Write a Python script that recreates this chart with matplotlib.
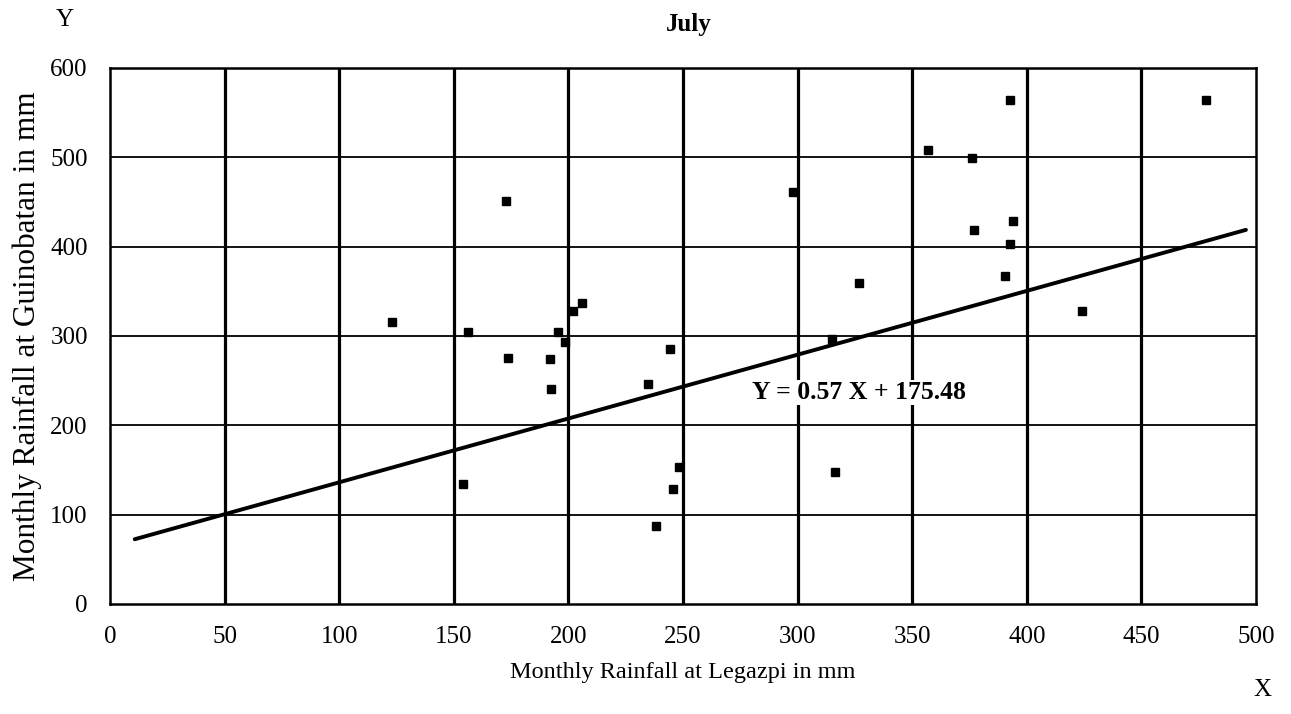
import matplotlib
matplotlib.use("Agg")
import matplotlib.pyplot as plt

plt.rcParams['font.family'] = ['Liberation Serif', 'DejaVu Serif']

# Monthly rainfall in July (mm): Legazpi (x) vs Guinobatan (y)
legazpi = [172.7, 123.1, 156.2, 206.0, 202.0, 195.5, 198.3, 173.6, 191.8,
           244.2, 234.8, 192.3, 154.1, 248.3, 245.7, 238.4, 392.6, 478.0,
           357.0, 376.3, 298.0, 393.8, 377.0, 392.6, 326.8, 390.5, 424.1,
           314.8, 316.2]
guinobatan = [451.6, 315.8, 305.0, 336.7, 328.4, 305.0, 293.7, 275.5, 274.7,
              285.2, 246.4, 240.4, 134.0, 153.0, 128.8, 87.7, 564.0, 564.0,
              508.0, 498.7, 461.4, 429.0, 419.0, 402.8, 359.0, 367.6, 328.4,
              296.4, 147.8]

# Trend line as drawn on the chart
trend_x = [10.8, 495.6]
trend_y = [72.5, 418.8]
equation = "Y = 0.57 X + 175.48"

x_ticks = [0, 50, 100, 150, 200, 250, 300, 350, 400, 450, 500]
y_ticks = [0, 100, 200, 300, 400, 500, 600]

fig = plt.figure(figsize=(12.91, 7.14), dpi=100)
ax = fig.add_axes([110 / 1291, 1 - 604 / 714, (1256 - 110) / 1291, (604 - 68) / 714])

ax.set_xlim(0, 500)
ax.set_ylim(0, 600)

# grid: heavy verticals, lighter horizontals
for xv in x_ticks[1:-1]:
    ax.axvline(xv, color='black', lw=2.3, zorder=1)
for yv in y_ticks[1:-1]:
    ax.axhline(yv, color='black', lw=1.3, zorder=1)

ax.plot(trend_x, trend_y, color='black', lw=2.8, solid_capstyle='round', zorder=2)
ax.plot(legazpi, guinobatan, linestyle='none', marker='s', markersize=6.2,
        color='black', zorder=3)

ax.text(327, 237, equation, ha='center', va='center', fontsize=18.5,
        fontweight='bold', zorder=4,
        bbox=dict(facecolor='white', edgecolor='none', pad=0.5))

for s in ax.spines.values():
    s.set_linewidth(1.8)

ax.set_xticks(x_ticks)
ax.set_yticks(y_ticks)
ax.tick_params(axis='x', length=0, labelsize=18, pad=16)
ax.tick_params(axis='y', length=0, labelsize=18, pad=16)

ax.set_xlabel("Monthly Rainfall at Legazpi in mm", fontsize=17.5, labelpad=10)
ax.set_ylabel("Monthly Rainfall at Guinobatan in mm", fontsize=22.5, labelpad=6)

fig.text(689 / 1291, 1 - 24 / 714, "July", ha='center', va='center',
         fontsize=18, fontweight='bold')
fig.text(65 / 1291, 1 - 20 / 714, "Y", ha='center', va='center', fontsize=18)
fig.text(1262 / 1291, 1 - 690 / 714, "X", ha='center', va='center', fontsize=18)

fig.savefig("out.png", dpi=100, facecolor='white')
